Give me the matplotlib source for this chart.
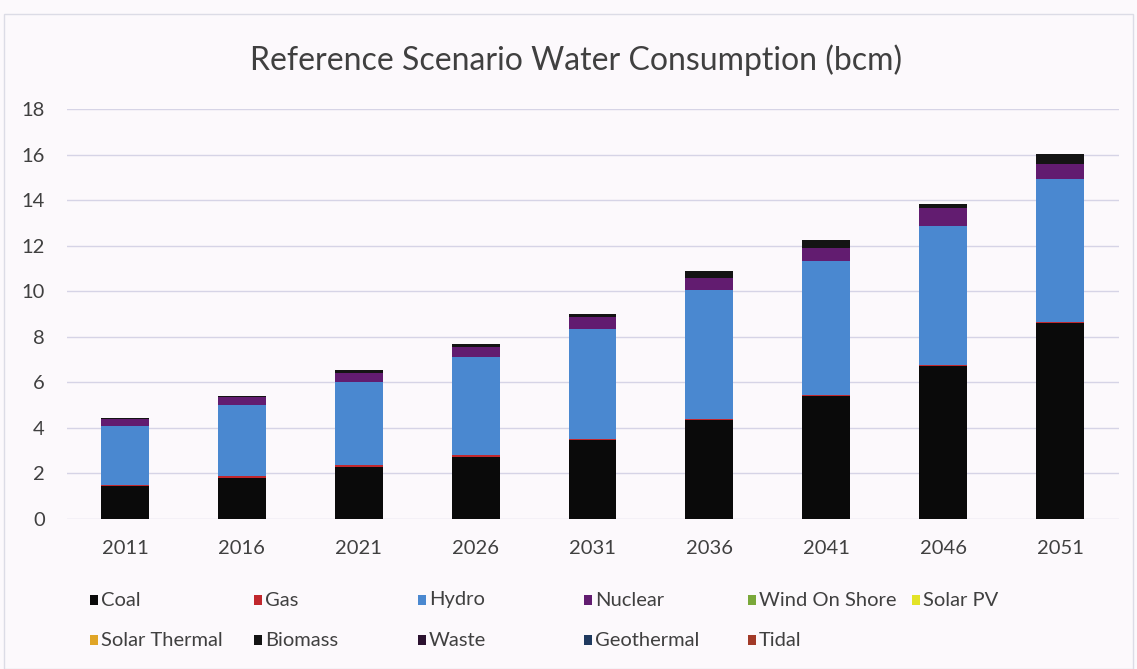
import matplotlib
matplotlib.use("Agg")
import matplotlib.pyplot as plt
from matplotlib.patches import Rectangle
import numpy as np

years = ["2011", "2016", "2021", "2026", "2031", "2036", "2041", "2046", "2051"]
series_names = ["Coal", "Gas", "Hydro", "Nuclear", "Wind On Shore", "Solar PV",
                "Solar Thermal", "Biomass", "Waste", "Geothermal", "Tidal"]
coal = [1.45, 1.81, 2.29, 2.74, 3.46, 4.34, 5.39, 6.73, 8.60]
gas = [0.06, 0.06, 0.07, 0.06, 0.05, 0.05, 0.05, 0.04, 0.04]
hydro = [2.57, 3.13, 3.64, 4.30, 4.84, 5.65, 5.88, 6.09, 6.30]
nuclear = [0.31, 0.36, 0.40, 0.44, 0.52, 0.56, 0.58, 0.78, 0.66]
wind = [0, 0, 0, 0, 0, 0, 0, 0, 0]
solar_pv = [0, 0, 0, 0, 0, 0, 0, 0, 0]
solar_thermal = [0, 0, 0, 0, 0, 0, 0, 0, 0]
biomass = [0.05, 0.05, 0.12, 0.13, 0.13, 0.28, 0.34, 0.21, 0.44]
waste = [0, 0, 0, 0, 0, 0, 0, 0, 0]
geothermal = [0, 0, 0, 0, 0, 0, 0, 0, 0]
tidal = [0, 0, 0, 0, 0, 0, 0, 0, 0]

colors = ["#0a0a0a", "#c1272d", "#4a88d0", "#621c70", "#7aa83a", "#e3e327",
          "#e0a526", "#141414", "#2b1230", "#1f3a5f", "#a23a28"]
data = [coal, gas, hydro, nuclear, wind, solar_pv, solar_thermal, biomass,
        waste, geothermal, tidal]

plt.rcParams['font.family'] = ['Lato', 'DejaVu Sans']

W, H = 1137, 669
fig = plt.figure(figsize=(W / 100, H / 100), dpi=100, facecolor="#fcf9fc")
ax = fig.add_axes([66.5 / W, 1 - 519 / H, (1118.5 - 66.5) / W, (519 - 109) / H])
ax.set_facecolor("#fcf9fc")

x = np.arange(len(years))
bottom = np.zeros(len(years))
for name, vals, c in zip(series_names, data, colors):
    v = np.array(vals, dtype=float)
    ax.bar(x, v, bottom=bottom, width=0.41, color=c, linewidth=0, zorder=3)
    bottom += v

ax.set_xlim(-0.5, len(years) - 0.5)
ax.set_ylim(0, 18)
ax.set_yticks(np.arange(0, 19, 2))
ax.set_xticks(x)
ax.set_xticklabels(years)
ax.grid(axis="y", color="#d6d4e6", linewidth=1, zorder=0)
for s in ax.spines.values():
    s.set_visible(False)
ax.tick_params(axis="both", length=0, labelsize=14.5, colors="#404040")
ax.tick_params(axis="y", pad=15.5)
ax.tick_params(axis="x", pad=15)

fig.text(576 / W, 1 - 60 / H, "Reference Scenario Water Consumption (bcm)",
         ha="center", va="center", fontsize=23, color="#404040")

# legend grid (row-wise, 6 columns)
col_x = [90, 254, 418, 584, 748, 912]
row_y = [600, 640]
for i, (name, c) in enumerate(zip(series_names, colors)):
    r, cidx = divmod(i, 6)
    px, py = col_x[cidx], row_y[r]
    fig.add_artist(Rectangle((px / W, 1 - (py + 5) / H), 8 / W, 10 / H,
                             transform=fig.transFigure, color=c, linewidth=0))
    fig.text((px + 11) / W, 1 - py / H, name, ha="left", va="center",
             fontsize=14.5, color="#404040")

fig.add_artist(Rectangle((4 / W, 0), (W - 8) / W, (H - 14) / H,
                         transform=fig.transFigure, fill=False,
                         edgecolor="#dcdce6", linewidth=1))

fig.savefig("out.png", dpi=100, facecolor=fig.get_facecolor())
